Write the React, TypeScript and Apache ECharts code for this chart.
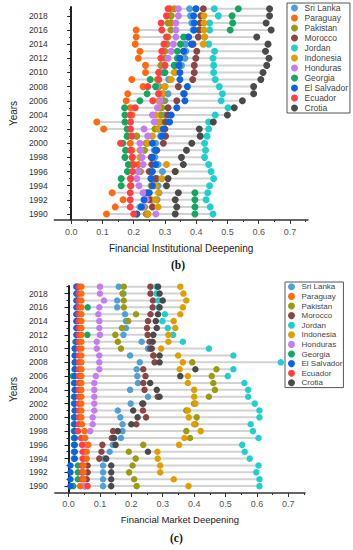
import React, { useEffect, useRef } from 'react';
import * as echarts from 'echarts';

const years = [1990, 1991, 1992, 1993, 1994, 1995, 1996, 1997, 1998, 1999, 2000, 2001, 2002, 2003, 2004, 2005, 2006, 2007, 2008, 2009, 2010, 2011, 2012, 2013, 2014, 2015, 2016, 2017, 2018, 2019];
const countries = ['Sri Lanka', 'Paraguay', 'Pakistan', 'Morocco', 'Jordan', 'Indonesia', 'Honduras', 'Georgia', 'El Salvador', 'Ecuador', 'Crotia'];
const colors = ['#4f9fd8', '#ff6a10', '#9b9a10', '#8b4545', '#1ecfcf', '#e09e00', '#c57cf0', '#12a860', '#0a63e0', '#ff4040', '#4a4a4a'];
const yTickYears = [1990, 1992, 1994, 1996, 1998, 2000, 2002, 2004, 2006, 2008, 2010, 2012, 2014, 2016, 2018];
const yMinorYears = [1991, 1993, 1995, 1997, 1999, 2001, 2003, 2005, 2007, 2009, 2011, 2013, 2015, 2017, 2019];
const xTickValues = [0, 0.1, 0.2, 0.3, 0.4, 0.5, 0.6, 0.7];
const xMinorValues = [0.05, 0.15, 0.25, 0.35, 0.45, 0.55, 0.65, 0.75];

// Financial Institutional Deepening (b), 1990..2019
const sriLankaFID = [0.21, 0.22, 0.275, 0.281, 0.278, 0.275, 0.292, 0.278, 0.268, 0.266, 0.27, 0.286, 0.28, 0.278, 0.299, 0.285, 0.3, 0.31, 0.3, 0.312, 0.333, 0.353, 0.364, 0.367, 0.366, 0.374, 0.39, 0.386, 0.382, 0.379];
const paraguayFID = [0.113, 0.141, 0.166, 0.131, 0.191, 0.19, 0.215, 0.215, 0.196, 0.194, 0.189, 0.18, 0.104, 0.082, 0.195, 0.19, 0.176, 0.181, 0.23, 0.194, 0.238, 0.238, 0.215, 0.22, 0.205, 0.208, 0.208, 0.32, 0.319, 0.33];
const pakistanFID = [0.24, 0.235, 0.256, 0.237, 0.256, 0.258, 0.222, 0.194, 0.26, 0.235, 0.24, 0.21, 0.268, 0.287, 0.287, 0.29, 0.294, 0.294, 0.281, 0.276, 0.281, 0.287, 0.3, 0.3, 0.307, 0.31, 0.319, 0.31, 0.32, 0.317];
const moroccoFID = [0.245, 0.26, 0.25, 0.244, 0.265, 0.27, 0.25, 0.258, 0.256, 0.274, 0.295, 0.302, 0.3, 0.302, 0.309, 0.31, 0.338, 0.362, 0.343, 0.389, 0.394, 0.394, 0.399, 0.402, 0.39, 0.407, 0.41, 0.413, 0.415, 0.423];
const jordanFID = [0.454, 0.445, 0.432, 0.437, 0.443, 0.456, 0.448, 0.44, 0.427, 0.43, 0.427, 0.435, 0.44, 0.44, 0.461, 0.502, 0.48, 0.484, 0.474, 0.461, 0.456, 0.456, 0.454, 0.459, 0.44, 0.427, 0.443, 0.443, 0.471, 0.458];
const indonesiaFID = [0.245, 0.278, 0.27, 0.28, 0.27, 0.29, 0.333, 0.305, 0.22, 0.22, 0.245, 0.26, 0.28, 0.28, 0.27, 0.28, 0.28, 0.29, 0.3, 0.32, 0.33, 0.333, 0.35, 0.36, 0.423, 0.427, 0.425, 0.425, 0.425, 0.4];
const hondurasFID = [0.271, 0.23, 0.24, 0.23, 0.217, 0.21, 0.215, 0.23, 0.227, 0.223, 0.22, 0.245, 0.233, 0.266, 0.26, 0.276, 0.285, 0.28, 0.275, 0.28, 0.29, 0.3, 0.31, 0.32, 0.327, 0.335, 0.335, 0.335, 0.343, 0.343];
const georgiaFID = [0.396, 0.396, 0.396, 0.396, 0.16, 0.16, 0.18, 0.183, 0.172, 0.174, 0.165, 0.179, 0.179, 0.172, 0.172, 0.171, 0.22, 0.243, 0.27, 0.253, 0.3, 0.33, 0.34, 0.34, 0.35, 0.36, 0.509, 0.517, 0.515, 0.535];
const elSalvadorFID = [0.21, 0.225, 0.233, 0.25, 0.26, 0.255, 0.26, 0.27, 0.26, 0.27, 0.26, 0.29, 0.295, 0.315, 0.32, 0.338, 0.364, 0.36, 0.372, 0.348, 0.348, 0.345, 0.348, 0.36, 0.385, 0.376, 0.394, 0.394, 0.392, 0.399];
const ecuadorFID = [0.2, 0.189, 0.189, 0.189, 0.19, 0.19, 0.196, 0.2, 0.195, 0.19, 0.158, 0.194, 0.19, 0.19, 0.188, 0.205, 0.261, 0.28, 0.245, 0.28, 0.28, 0.3, 0.287, 0.29, 0.297, 0.305, 0.29, 0.288, 0.305, 0.31];
const crotiaFID = [0.333, 0.338, 0.333, 0.343, 0.305, 0.31, 0.333, 0.359, 0.353, 0.369, 0.386, 0.413, 0.41, 0.455, 0.5, 0.522, 0.548, 0.584, 0.584, 0.607, 0.614, 0.626, 0.633, 0.622, 0.63, 0.594, 0.64, 0.624, 0.635, 0.635];

// Financial Market Deepening (c), 1990..2019
const sriLankaFMD = [0.11, 0.11, 0.11, 0.11, 0.113, 0.131, 0.141, 0.167, 0.172, 0.172, 0.165, 0.157, 0.198, 0.253, 0.196, 0.221, 0.219, 0.217, 0.227, 0.196, 0.253, 0.233, 0.175, 0.183, 0.183, 0.18, 0.155, 0.155, 0.175, 0.16];
const paraguayFMD = [0.037, 0.048, 0.048, 0.048, 0.058, 0.058, 0.063, 0.053, 0.051, 0.043, 0.041, 0.041, 0.041, 0.041, 0.041, 0.041, 0.041, 0.041, 0.041, 0.041, 0.041, 0.041, 0.041, 0.041, 0.041, 0.041, 0.041, 0.041, 0.041, 0.041];
const pakistanFMD = [0.217, 0.209, 0.193, 0.204, 0.214, 0.192, 0.238, 0.387, 0.375, 0.404, 0.408, 0.375, 0.4, 0.447, 0.466, 0.461, 0.456, 0.471, 0.394, 0.271, 0.167, 0.157, 0.149, 0.17, 0.19, 0.215, 0.176, 0.176, 0.172, 0.176];
const moroccoFMD = [0.053, 0.058, 0.061, 0.061, 0.098, 0.105, 0.108, 0.138, 0.142, 0.216, 0.247, 0.237, 0.238, 0.284, 0.242, 0.238, 0.245, 0.238, 0.274, 0.27, 0.26, 0.258, 0.252, 0.25, 0.253, 0.261, 0.268, 0.269, 0.261, 0.261];
const jordanFMD = [0.608, 0.608, 0.598, 0.605, 0.577, 0.561, 0.553, 0.605, 0.587, 0.58, 0.608, 0.608, 0.593, 0.572, 0.572, 0.56, 0.507, 0.525, 0.676, 0.525, 0.447, 0.364, 0.333, 0.316, 0.299, 0.307, 0.287, 0.287, 0.28, 0.28];
const indonesiaFMD = [0.382, 0.335, 0.292, 0.292, 0.284, 0.283, 0.352, 0.369, 0.421, 0.4, 0.383, 0.38, 0.404, 0.4, 0.4, 0.38, 0.38, 0.354, 0.364, 0.349, 0.295, 0.318, 0.318, 0.34, 0.335, 0.356, 0.364, 0.375, 0.366, 0.356];
const hondurasFMD = [0.05, 0.045, 0.045, 0.045, 0.051, 0.051, 0.055, 0.053, 0.069, 0.077, 0.077, 0.082, 0.082, 0.082, 0.082, 0.082, 0.087, 0.098, 0.098, 0.098, 0.09, 0.09, 0.1, 0.098, 0.098, 0.095, 0.098, 0.113, 0.1, 0.1];
const georgiaFMD = [0.015, 0.03, 0.03, 0.03, 0.017, 0.017, 0.017, 0.017, 0.017, 0.017, 0.017, 0.02, 0.017, 0.017, 0.02, 0.017, 0.014, 0.02, 0.02, 0.02, 0.02, 0.022, 0.06, 0.027, 0.027, 0.027, 0.061, 0.027, 0.027, 0.027];
const elSalvadorFMD = [0.006, 0.006, 0.006, 0.006, 0.02, 0.02, 0.02, 0.02, 0.02, 0.02, 0.02, 0.02, 0.02, 0.02, 0.02, 0.02, 0.02, 0.02, 0.02, 0.02, 0.02, 0.025, 0.025, 0.025, 0.025, 0.025, 0.025, 0.025, 0.025, 0.025];
const ecuadorFMD = [0.061, 0.042, 0.042, 0.042, 0.045, 0.045, 0.043, 0.04, 0.03, 0.033, 0.033, 0.033, 0.033, 0.033, 0.033, 0.033, 0.033, 0.033, 0.033, 0.033, 0.033, 0.033, 0.033, 0.033, 0.033, 0.033, 0.033, 0.033, 0.033, 0.033];
const crotiaFMD = [0.136, 0.136, 0.136, 0.136, 0.12, 0.253, 0.15, 0.145, 0.157, 0.2, 0.22, 0.206, 0.235, 0.29, 0.281, 0.26, 0.356, 0.404, 0.29, 0.29, 0.265, 0.268, 0.27, 0.281, 0.278, 0.285, 0.29, 0.3, 0.29, 0.285];

const fidSeries = [sriLankaFID, paraguayFID, pakistanFID, moroccoFID, jordanFID, indonesiaFID, hondurasFID, georgiaFID, elSalvadorFID, ecuadorFID, crotiaFID];
const fmdSeries = [sriLankaFMD, paraguayFMD, pakistanFMD, moroccoFMD, jordanFMD, indonesiaFMD, hondurasFMD, georgiaFMD, elSalvadorFMD, ecuadorFMD, crotiaFMD];

const FONT = 'Liberation Sans, Arial, sans-serif';

function rangeData(all: number[][]) {
  return years.map((y, i) => {
    const vals = all.map((s) => s[i]);
    return [Math.min(...vals), Math.max(...vals), y];
  });
}

function lineSeries(all: number[][], axisIdx: number) {
  return {
    type: 'custom',
    xAxisIndex: axisIdx,
    yAxisIndex: axisIdx,
    z: 1,
    silent: true,
    encode: { x: [0, 1], y: 2 },
    data: rangeData(all),
    renderItem: (params: any, api: any) => {
      const p1 = api.coord([api.value(0), api.value(2)]);
      const p2 = api.coord([api.value(1), api.value(2)]);
      return {
        type: 'line',
        shape: { x1: p1[0], y1: p1[1], x2: p2[0], y2: p2[1] },
        style: { stroke: '#d2d2d2', lineWidth: 2 },
      };
    },
  };
}

function xAxes(gridIndex: number, min: number, max: number, name: string, nameGap: number, nameSize: number, margin: number) {
  return [
    {
      type: 'value', gridIndex, min, max, position: 'bottom',
      splitLine: { show: false },
      axisLine: { show: true, lineStyle: { color: '#333', width: 1.5 } },
      axisTick: { show: true, customValues: xTickValues, length: 4, lineStyle: { color: '#333', width: 1 } },
      axisLabel: { show: true, customValues: xTickValues, formatter: (v: number) => v.toFixed(1), margin, fontSize: 9, color: '#555', fontFamily: FONT },
      name, nameLocation: 'middle', nameGap,
      nameTextStyle: { fontSize: nameSize, color: '#222', fontFamily: FONT },
    },
    {
      type: 'value', gridIndex, min, max, position: 'bottom',
      splitLine: { show: false },
      axisLine: { show: false },
      axisTick: { show: true, customValues: xMinorValues, length: 2, lineStyle: { color: '#333', width: 1 } },
      axisLabel: { show: false },
    },
  ];
}

function yAxes(gridIndex: number, min: number, max: number, margin: number, nameGap: number) {
  return [
    {
      type: 'value', gridIndex, min, max, position: 'left',
      splitLine: { show: false },
      axisLine: { show: true, lineStyle: { color: '#222', width: 2 } },
      axisTick: { show: true, customValues: yTickYears, length: 4, lineStyle: { color: '#222', width: 1 } },
      axisLabel: { show: true, customValues: yTickYears, formatter: (v: number) => String(v), margin, fontSize: 8.5, color: '#333', fontFamily: FONT },
      name: 'Years', nameLocation: 'middle', nameGap,
      nameTextStyle: { fontSize: 10, color: '#222', fontFamily: FONT },
    },
    {
      type: 'value', gridIndex, min, max, position: 'left',
      splitLine: { show: false },
      axisLine: { show: false },
      axisTick: { show: true, customValues: yMinorYears, length: 2, lineStyle: { color: '#222', width: 1 } },
      axisLabel: { show: false },
    },
  ];
}

function scatterSeries(all: number[][], axisIdx: number, size: number, zOf: (k: number) => number) {
  return all.map((vals, k) => ({
    type: 'scatter',
    name: countries[k],
    xAxisIndex: axisIdx,
    yAxisIndex: axisIdx,
    symbol: 'circle',
    symbolSize: size,
    z: zOf(k),
    itemStyle: { color: colors[k], opacity: 1 },
    data: years.map((y, i) => [vals[i], y]),
  }));
}

function legend(left: number, top: number, fontSize: number, lineHeight: number, padding: number[]) {
  return {
    orient: 'vertical', left, top,
    itemWidth: 10, itemHeight: 7, itemGap: 0,
    padding,
    borderColor: '#555', borderWidth: 1,
    icon: 'circle',
    textStyle: { fontSize, color: '#444', lineHeight, fontFamily: FONT, padding: 0 },
    data: countries,
  };
}

export default function App() {
  const ref = useRef<HTMLDivElement>(null);
  useEffect(() => {
    if (!ref.current) return;
    const chart = echarts.init(ref.current, null, { renderer: 'svg' });
    const option: any = {
      animation: false,
      grid: [
        { left: 44, top: 7, width: 264, height: 213 },
        { left: 49, top: 286, width: 256, height: 207 },
      ],
      xAxis: [
        ...xAxes(0, -0.054, 0.758, 'Financial Institutional Deepening', 23, 10, 7),
        ...xAxes(1, -0.0436, 0.753, 'Financial Market Deepening', 21, 9.5, 6),
      ],
      yAxis: [
        ...yAxes(0, 1989.15, 2019.25, 6.5, 29),
        ...yAxes(1, 1989, 2019.1, 7, 31),
      ],
      legend: [
        legend(287, 3, 8.5, 10, [0, 2, 0, 4]),
        legend(285, 282, 8, 9.6, [0, 1, 0, 3]),
      ],
      graphic: [
        { type: 'text', left: 171, top: 259, style: { text: '(b)', fontSize: 11.5, fontWeight: 'bold', fontFamily: 'Liberation Serif, serif', fill: '#111' } },
        { type: 'text', left: 170, top: 532, style: { text: '(c)', fontSize: 11.5, fontWeight: 'bold', fontFamily: 'Liberation Serif, serif', fill: '#111' } },
      ],
      series: [
        lineSeries(fidSeries, 0),
        lineSeries(fmdSeries, 2),
        ...scatterSeries(fidSeries, 0, 7, () => 3),
        ...scatterSeries(fmdSeries, 2, 6.5, (k) => (k === 1 ? 4 : 3)),
      ],
    };
    chart.setOption(option);
    return () => chart.dispose();
  }, []);
  return <div ref={ref} style={{ position: 'absolute', left: 0, top: 0, width: 353, height: 550 }} />;
}
